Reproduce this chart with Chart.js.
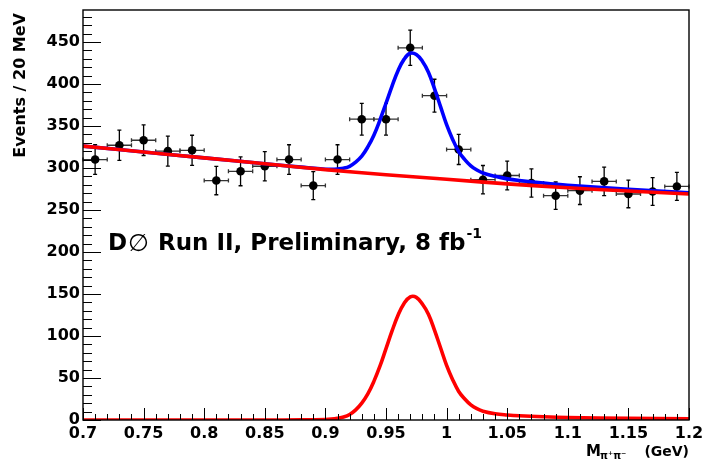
<!DOCTYPE html>
<html>
<head>
<meta charset="utf-8">
<script src="https://cdn.jsdelivr.net/npm/chart.js@4/dist/chart.umd.min.js"></script>
<style>
  html, body { margin: 0; padding: 0; background: #fff; }
  canvas { display: block; }
</style>
</head>
<body>
<canvas id="massPlot" width="702" height="464"></canvas>
<script>
// measured spectrum, 20 MeV bins
const binCentres = [0.71, 0.73, 0.75, 0.77, 0.79, 0.81, 0.83, 0.85, 0.87, 0.89, 0.91, 0.93, 0.95,
  0.97, 0.99, 1.01, 1.03, 1.05, 1.07, 1.09, 1.11, 1.13, 1.15, 1.17, 1.19]
const events = [310, 327, 333, 320, 321, 285, 296, 302, 310, 279, 310, 358, 358,
  443, 386, 322, 286, 291, 282, 267, 273, 284, 269, 272, 278]
const eventErrors = [17.6, 18.1, 18.2, 17.9, 17.9, 16.9, 17.2, 17.4, 17.6, 16.7, 17.6, 18.9, 18.9,
  21.0, 19.6, 17.9, 16.9, 17.1, 16.8, 16.3, 16.5, 16.9, 16.4, 16.5, 16.7]
const binHalfWidth = 0.01

// background fit (red)
const bgMass = [0.70, 0.75, 0.80, 0.85, 0.90, 0.95, 1.00, 1.05, 1.10, 1.15, 1.20]
const bgFit = [326, 319, 312, 305, 298, 292, 286.5, 281, 276.5, 272.5, 269]

// signal and total fit curves (signal red at the bottom, total blue)
const fitMass = [0.70, 0.75, 0.80, 0.85, 0.88, 0.90, 0.905, 0.91, 0.915, 0.92, 0.925, 0.93, 0.935,
  0.94, 0.945, 0.95, 0.955, 0.96, 0.965, 0.97, 0.975, 0.98, 0.985, 0.99, 0.995, 1.00, 1.005,
  1.01, 1.015, 1.02, 1.025, 1.03, 1.04, 1.05, 1.06, 1.08, 1.10, 1.15, 1.20]
const signalFit = [0, 0, 0, 0, 0.1, 0.5, 1, 2, 3.5, 6.5, 12, 20, 31,
  46, 64, 85, 106, 125, 139, 146.5, 146, 138, 126, 107, 86, 65, 48,
  34, 25, 18, 13.5, 10.5, 7.5, 6, 5, 3.8, 3, 2, 1.5]
const totalFit = [326, 319, 312, 305, 301, 298.5, 298.4, 298.8, 299.7, 302, 307, 314, 325,
  339, 357, 377, 397.5, 416, 429.5, 436.5, 435, 427, 414, 394.5, 373, 351.5, 334,
  319.5, 310, 302.5, 297.5, 294, 290, 287, 285, 282, 279.5, 274.5, 270.5]

const xTicks = { min: 0.7, max: 1.2, step: 0.05, minor: 0.01 }
const yTicks = { min: 0, max: 488, step: 50, minor: 10 }

const FONT = '"DejaVu Sans", "Liberation Sans", sans-serif'

const toPoints = (xs, ys) => xs.map((x, i) => ({ x, y: ys[i] }))

const errorBars = {
  id: 'errorBars',
  beforeDatasetsDraw(chart) {
    const { ctx, scales: { x, y } } = chart
    ctx.save()
    binCentres.forEach((m, i) => {
      const px = x.getPixelForValue(m)
      const py = y.getPixelForValue(events[i])
      const xl = x.getPixelForValue(m - binHalfWidth)
      const xr = x.getPixelForValue(m + binHalfWidth)
      const yt = y.getPixelForValue(events[i] + eventErrors[i])
      const yb = y.getPixelForValue(events[i] - eventErrors[i])
      // horizontal bar
      ctx.strokeStyle = '#333'
      ctx.lineWidth = 1.3
      ctx.beginPath()
      ctx.moveTo(xl, py); ctx.lineTo(xr, py)
      ctx.moveTo(xl, py - 2); ctx.lineTo(xl, py + 2)
      ctx.moveTo(xr, py - 2); ctx.lineTo(xr, py + 2)
      ctx.stroke()
      // vertical bar
      ctx.strokeStyle = '#000'
      ctx.beginPath()
      ctx.moveTo(px, yt); ctx.lineTo(px, yb)
      ctx.moveTo(px - 2, yt); ctx.lineTo(px + 2, yt)
      ctx.moveTo(px - 2, yb); ctx.lineTo(px + 2, yb)
      ctx.stroke()
    })
    ctx.restore()
  }
}

const rootFrame = {
  id: 'rootFrame',
  afterDatasetsDraw(chart) {
    const { ctx, chartArea: a, scales: { x, y } } = chart
    ctx.save()
    ctx.strokeStyle = '#000'
    ctx.lineWidth = 1
    ctx.beginPath()
    // y ticks, drawn inside
    for (let v = yTicks.min; v <= yTicks.max; v += yTicks.minor) {
      const py = Math.round(y.getPixelForValue(v)) + 0.5
      const len = v % yTicks.step === 0 ? 18 : 9
      ctx.moveTo(a.left, py); ctx.lineTo(a.left + len, py)
    }
    // x ticks
    for (let k = 0; k <= Math.round((xTicks.max - xTicks.min) / xTicks.minor); k++) {
      const px = Math.round(x.getPixelForValue(xTicks.min + k * xTicks.minor)) + 0.5
      const len = k % 5 === 0 ? 12 : 6
      ctx.moveTo(px, a.bottom); ctx.lineTo(px, a.bottom - len)
    }
    ctx.stroke()
    ctx.lineWidth = 1.4
    ctx.strokeRect(a.left, a.top, a.right - a.left, a.bottom - a.top)
    ctx.restore()
  },
  afterDraw(chart) {
    const { ctx, chartArea: a } = chart
    ctx.save()
    ctx.fillStyle = '#000'

    // y title
    ctx.save()
    ctx.translate(21, 13)
    ctx.rotate(-Math.PI / 2)
    ctx.font = `bold 16px ${FONT}`
    ctx.textAlign = 'right'
    ctx.textBaseline = 'middle'
    ctx.fillText('Events / 20 MeV', 0, 0)
    ctx.restore()

    // x title
    ctx.textBaseline = 'alphabetic'
    ctx.textAlign = 'right'
    ctx.font = `bold 14px ${FONT}`
    ctx.fillText('(GeV)', a.right, 456)
    ctx.textAlign = 'left'
    ctx.font = `bold 15px ${FONT}`
    ctx.fillText('M', 586, 456)
    ctx.font = `bold 10px ${FONT}`
    ctx.fillText('π⁺π⁻', 600, 459)

    // experiment label
    let tx = 108
    const base = 250
    ctx.font = `bold 23px ${FONT}`
    ctx.fillText('D', tx, base)
    tx += ctx.measureText('D').width + 1
    ctx.font = `24px ${FONT}`
    ctx.fillText('∅', tx, base + 1)
    tx += ctx.measureText('∅').width + 1
    ctx.font = `bold 23px ${FONT}`
    const label = ' Run II, Preliminary, 8 fb'
    ctx.fillText(label, tx, base)
    tx += ctx.measureText(label).width + 1
    ctx.font = `bold 14px ${FONT}`
    ctx.fillText('-1', tx, 238)
    ctx.restore()
  }
}

const curve = (xs, ys, colour) => ({
  type: 'line',
  data: toPoints(xs, ys),
  borderColor: colour,
  borderWidth: 3.6,
  pointRadius: 0,
  tension: 0.4
})

new Chart(document.getElementById('massPlot'), {
  type: 'scatter',
  data: {
    datasets: [
      // background fit on top
      curve(bgMass, bgFit, '#ff0000'),
      // signal component
      curve(fitMass, signalFit, '#ff0000'),
      // signal + background
      curve(fitMass, totalFit, '#0000ff'),
      // data
      {
        data: toPoints(binCentres, events),
        backgroundColor: '#000',
        borderColor: '#000',
        pointRadius: 4.3,
        pointBorderWidth: 0
      }
    ]
  },
  options: {
    responsive: false,
    animation: false,
    devicePixelRatio: 1,
    layout: { padding: { top: 10, right: 13, left: 0, bottom: 0 } },
    plugins: {
      legend: { display: false },
      tooltip: { enabled: false }
    },
    scales: {
      x: {
        type: 'linear',
        min: xTicks.min,
        max: xTicks.max,
        grid: { display: false, drawTicks: false },
        border: { display: false },
        ticks: {
          stepSize: xTicks.step,
          padding: 4,
          maxRotation: 0,
          autoSkip: false,
          color: '#000',
          font: { family: FONT, size: 16, weight: 'bold' },
          callback: v => String(+v.toFixed(2))
        },
        afterFit(scale) {
          scale.height = 44
          scale.paddingLeft = 0
          scale.paddingRight = 0
        }
      },
      y: {
        min: yTicks.min,
        max: yTicks.max,
        grid: { display: false, drawTicks: false },
        border: { display: false },
        ticks: {
          stepSize: yTicks.step,
          padding: 3,
          color: '#000',
          font: { family: FONT, size: 16, weight: 'bold' },
          callback: v => (v % yTicks.step === 0 ? v : null)
        },
        afterFit(scale) {
          scale.width = 83
          scale.paddingTop = 0
          scale.paddingBottom = 0
        }
      }
    }
  },
  plugins: [errorBars, rootFrame]
})
</script>
</body>
</html>
